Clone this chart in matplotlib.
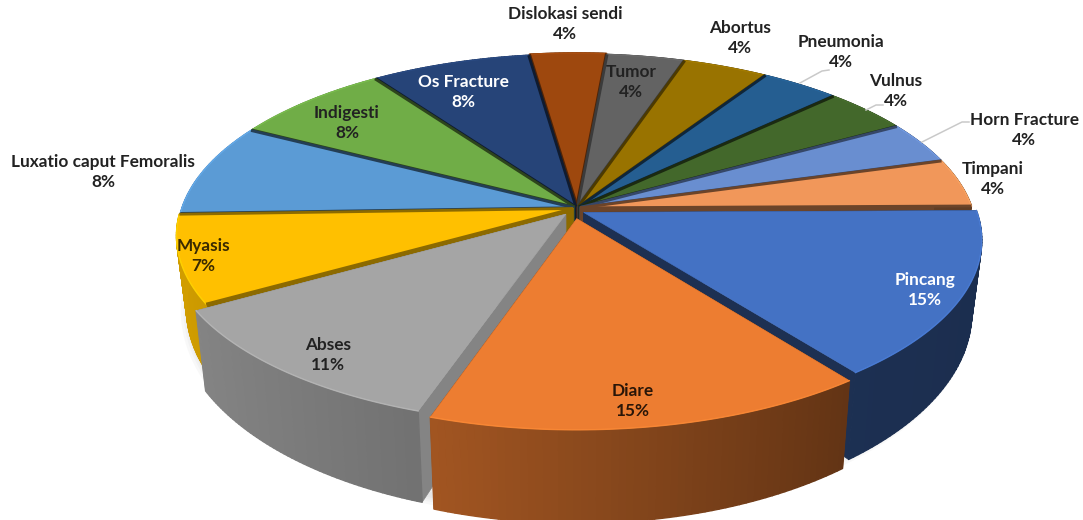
import numpy as np
import matplotlib
matplotlib.use('Agg')
import matplotlib.pyplot as plt
from matplotlib.patches import Polygon
from matplotlib.collections import PolyCollection
from matplotlib.colors import to_rgb

# clockwise from the right hand side, shares
categories = ['Pincang', 'Diare', 'Abses', 'Myasis', 'Luxatio caput Femoralis', 'Indigesti',
              'Os Fracture', 'Dislokasi sendi', 'Tumor', 'Abortus', 'Pneumonia', 'Vulnus',
              'Horn Fracture', 'Timpani']
shares = [14.8, 15.5, 11.5, 7.85, 8.3, 7.5, 7.5, 3.6, 3.65, 4.0, 3.7, 4.05, 3.75, 4.3]
percent_labels = ['15%', '15%', '11%', '7%', '8%', '8%', '8%', '4%', '4%', '4%', '4%', '4%', '4%', '4%']
colors = ['#4472c4', '#ed7d31', '#a5a5a5', '#ffc000', '#5b9bd5', '#70ad47', '#264478',
          '#9e480e', '#636363', '#997300', '#255e91', '#43682b', '#698ed0', '#f1975a']
explode = [0.03, 0.06, 0.045, 0.01, 0.008, 0.008, 0.008, 0.015, 0.008, 0.008, 0.008, 0.008, 0.008, 0.008]
explode_turn = [-30, -10, 0, 0, 0, 0, 0, 0, 0, 0, 0, 0, 0, 0]
cut_shade = [0.42, 0.5, 0.8, 0.55, 0.4, 0.4, 0.4, 0.5, 0.6, 0.5, 0.4, 0.4, 0.5, 0.45]

label_pos = [(925, 290), (633, 401), (328, 355), (203, 256), (103, 172), (347, 123), (463, 92),
             (565, 24), (631, 82), (740, 38), (841, 52), (896, 91), (1024, 130), (993, 179)]
label_colors = ['white', '#2a1608', '#222222', '#3a2a00', '#222222', '#222222', 'white',
                '#222222', '#222222', '#222222', '#222222', '#222222', '#222222', '#222222']
leaders = [[(800, 83), (822, 71), (829, 70)], [(866, 110), (876, 105), (883, 105)],
           [(922, 142), (962, 122), (969, 122)]]

CX, CY = 577, 208
RX, RY = 392, 176
PERSP = 0.15
DEPTH = 70
START = 0.6


def project(X, Y, low=False):
    X, Y = np.asarray(X, float), np.asarray(Y, float)
    w = 1 + PERSP * Y
    x = RX * X / w
    y = -RY * Y / w
    if low:
        return CX + 0.975 * x, CY + 0.975 * y + DEPTH / w ** 2
    return CX + x, CY + y


def wall_shade(X):
    return np.interp(X, [-1, -0.3, 0.6, 1], [0.82, 0.68, 0.42, 0.4])


def scaled(col, k):
    return tuple(min(1, c * k) for c in to_rgb(col))


fig = plt.figure(figsize=(10.83, 5.2), dpi=100)
ax = fig.add_axes([0, 0, 1, 1])
ax.set_xlim(0, 1083)
ax.set_ylim(520, 0)
ax.axis('off')

# soft shadow under the pie
t = np.radians(np.linspace(0, 360, 240))
sx, sy = project(np.cos(t), np.sin(t), low=True)
for lw in (14, 10, 7, 4):
    ax.add_patch(Polygon(np.column_stack([sx, sy + 3]), closed=True, fc='none',
                         ec='#888888', lw=lw, alpha=0.05, zorder=1))

ends = START - np.cumsum(shares) * 3.6
begins = np.concatenate([[START], ends[:-1]])
mids = (begins + ends) / 2
order = np.argsort(-np.sin(np.radians(mids)))

for z, i in enumerate(order):
    col = colors[i]
    m = np.radians(mids[i] + explode_turn[i])
    ox, oy = explode[i] * np.cos(m), explode[i] * np.sin(m)
    a = np.radians(np.linspace(begins[i], ends[i], 60))
    ux, uy = np.cos(a) + ox, np.sin(a) + oy
    tx, ty = project(ux, uy)
    bx, by = project(ux, uy, low=True)
    ax0, ay0 = project(ox, oy)
    ax1, ay1 = project(ox, oy, low=True)

    base = 10 + z * 2
    # radial cut faces
    face = scaled(col, cut_shade[i])
    for e in (0, -1):
        ax.add_patch(Polygon([(ax0, ay0), (tx[e], ty[e]), (bx[e], by[e]), (ax1, ay1)], closed=True,
                             fc=face, ec=face, lw=0.5, zorder=base))
    # outer wall, shaded strip by strip
    quads = [[(tx[k], ty[k]), (tx[k + 1], ty[k + 1]), (bx[k + 1], by[k + 1]), (bx[k], by[k])]
             for k in range(len(a) - 1)]
    wall_cols = [scaled(col, wall_shade(ux[k])) for k in range(len(a) - 1)]
    ax.add_collection(PolyCollection(quads, facecolors=wall_cols, edgecolors=wall_cols, lw=1.0, zorder=base))
    # top face and its rim
    ax.add_patch(Polygon(np.vstack([[ax0, ay0], np.column_stack([tx, ty])]), closed=True,
                         fc=col, ec=col, lw=0.4, zorder=base + 1))
    ax.plot(tx, ty, color=scaled(col, 1.12), lw=1.0, alpha=0.8, zorder=base + 1)
    # dark seam along the cuts of the slices that stay in the pie
    if explode[i] < 0.03:
        for e in (0, -1):
            ax.plot([ax0, tx[e]], [ay0, ty[e]], color=face, lw=2.0, zorder=base + 1,
                    solid_capstyle='butt')

for pts in leaders:
    ax.plot(*zip(*pts), color='#c9c9c9', lw=1.1, zorder=60)

for name, pct, (lx, ly), c in zip(categories, percent_labels, label_pos, label_colors):
    ax.text(lx, ly, name + '\n' + pct, ha='center', va='center', color=c, fontsize=12.4,
            family='Lato', fontweight='bold', linespacing=1.3, zorder=70)

fig.savefig('out.png', dpi=100)
